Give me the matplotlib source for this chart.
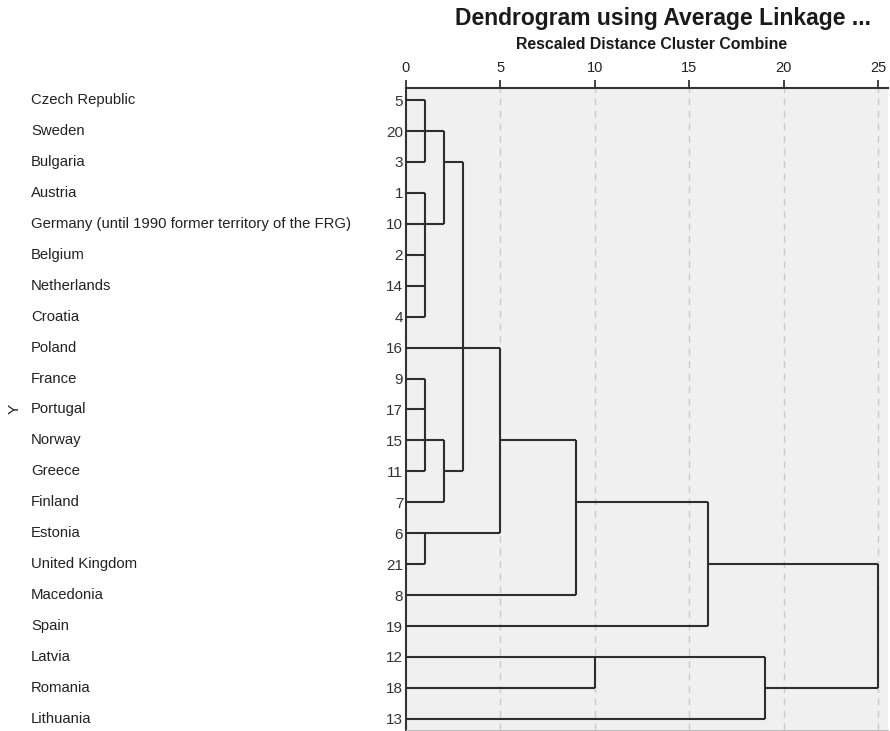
import matplotlib
matplotlib.use("Agg")
import matplotlib.pyplot as plt
import matplotlib.transforms as mtransforms

plt.rcParams['font.family'] = ['Liberation Sans', 'DejaVu Sans']

# leaves, top to bottom
countries = ["Czech Republic", "Sweden", "Bulgaria", "Austria",
             "Germany (until 1990 former territory of the FRG)", "Belgium",
             "Netherlands", "Croatia", "Poland", "France", "Portugal", "Norway",
             "Greece", "Finland", "Estonia", "United Kingdom", "Macedonia",
             "Spain", "Latvia", "Romania", "Lithuania"]
case_ids = [5, 20, 3, 1, 10, 2, 14, 4, 16, 9, 17, 15, 11, 7, 6, 21, 8, 19, 12, 18, 13]

# merges: node ids 0..20 are leaf rows, merge k gets id 21 + k
merge_children = [[0, 1, 2], [3, 4, 5, 6, 7], [21, 22], [9, 10, 11, 12], [24, 13],
                  [23, 8, 25], [14, 15], [26, 27], [28, 16], [29, 17],
                  [18, 19], [31, 20], [30, 32]]
merge_dist = [1, 1, 2, 1, 2, 3, 1, 5, 9, 16, 10, 19, 25]
merge_row = [1, 4, 2, 11, 12, 8, 14, 11, 13, 15, 18, 19, 17]

n_leaves = len(countries)
node_x = {i: 0 for i in range(n_leaves)}
node_y = {i: i for i in range(n_leaves)}

fig = plt.figure(figsize=(8.9, 7.31), dpi=100)
ax = fig.add_axes([406 / 890, 1 / 731, 482 / 890, 642 / 731])
ax.set_facecolor('#f0f0f0')

line_col = '#2e2e2e'
for k, (kids, d, r) in enumerate(zip(merge_children, merge_dist, merge_row)):
    ys = [node_y[c] for c in kids]
    ax.vlines(d, min(ys), max(ys), color=line_col, lw=1.5, zorder=3)
    for c in kids:
        ax.hlines(node_y[c], node_x[c], d, color=line_col, lw=1.5, zorder=3)
    node_x[n_leaves + k] = d
    node_y[n_leaves + k] = r

ax.set_xlim(0, 25.53)
ax.set_ylim(20.36, -0.39)

ax.xaxis.tick_top()
ax.set_xticks([0, 5, 10, 15, 20, 25])
ax.tick_params(axis='x', direction='out', length=6, width=1.2, pad=3,
               labelsize=10.5, colors='#222222')
for gx in [5, 10, 15, 20, 25]:
    ax.axvline(gx, color='#cacaca', lw=1, ls=(0, (5, 4)), zorder=1)

ax.set_yticks(range(n_leaves))
ax.set_yticklabels([str(c) for c in case_ids])
ax.tick_params(axis='y', length=0, pad=2, labelsize=11, colors='#333333')

ax.spines['top'].set_color('#333333')
ax.spines['top'].set_linewidth(1.5)
ax.spines['left'].set_color('#333333')
ax.spines['left'].set_linewidth(1.5)
ax.spines['right'].set_visible(False)
ax.spines['bottom'].set_color('#bdbdbd')

trans = mtransforms.blended_transform_factory(fig.transFigure, ax.transData)
for i, name in enumerate(countries):
    ax.text(31 / 890, i, name, transform=trans, ha='left', va='center',
            fontsize=10.75, color='#222222')

fig.text(15 / 890, 1 - 409 / 731, "Y", rotation=90, ha='center', va='center',
         fontsize=11, color='#222222')

fig.text(663 / 890, 1 - 25 / 731, "Dendrogram using Average Linkage ...",
         ha='center', va='baseline', fontsize=16.5, fontweight='bold', color='#1a1a1a')
fig.text(652 / 890, 1 - 49 / 731, "Rescaled Distance Cluster Combine",
         ha='center', va='baseline', fontsize=11.4, fontweight='bold', color='#1a1a1a')

fig.savefig("out.png", dpi=100)
